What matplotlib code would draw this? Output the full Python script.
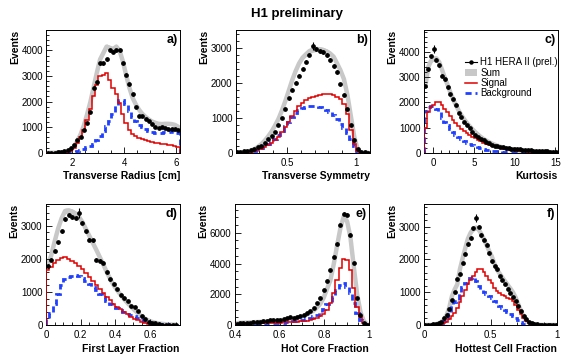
import numpy as np
import matplotlib
matplotlib.use("Agg")
import matplotlib.pyplot as plt
from matplotlib.lines import Line2D
from matplotlib.patches import Patch
from matplotlib.ticker import MultipleLocator, FuncFormatter

plt.rcParams['font.family'] = ['Liberation Sans', 'DejaVu Sans']

# ---- a) transverse radius: 41 bins of 0.125 from 1.0
a_data = [0, 0, 5, 10, 30, 60, 100, 180, 300, 480, 620, 880, 1180, 1600, 2550, 2750, 3500, 3500, 3650, 4000,
          3950, 4000, 4000, 3500, 3050, 2680, 2280, 1780, 1450, 1430, 1300, 1250, 1120, 1000, 980, 1000, 960,
          940, 910, 910, 890]
a_sig = [0, 0, 0, 5, 10, 20, 40, 80, 200, 380, 600, 900, 1280, 1700, 2200, 2650, 3000, 3050, 3100, 2850,
         2550, 2300, 1950, 1500, 1150, 900, 750, 640, 580, 520, 480, 440, 410, 390, 370, 350, 330, 310, 290,
         270, 240]
a_bkg = [0, 0, 0, 0, 0, 0, 10, 20, 40, 80, 120, 160, 220, 280, 350, 480, 650, 850, 1050, 1250, 1500, 1850,
         2050, 2080, 1900, 1650, 1400, 1250, 1100, 1000, 920, 860, 810, 780, 760, 770, 800, 820, 830, 820, 780]

# ---- b) transverse symmetry: 39 bins of 0.025 from 0.125
b_data = [20, 30, 40, 60, 80, 110, 150, 200, 280, 380, 480, 600, 800, 1000, 1250, 1550, 1800, 2000, 2200,
          2400, 2600, 2800, 3050, 2950, 2900, 2870, 2780, 2650, 2480, 2300, 1950, 1650, 1250, 800, 350, 100,
          30, 10, 0]
b_sig = [0, 0, 5, 10, 20, 40, 70, 110, 160, 220, 290, 370, 460, 580, 720, 880, 1050, 1200, 1330, 1430, 1500,
         1560, 1600, 1630, 1650, 1670, 1670, 1670, 1660, 1600, 1530, 1400, 1100, 650, 250, 40, 0, 0, 0]
b_bkg = [0, 5, 10, 20, 40, 60, 90, 130, 180, 240, 310, 400, 500, 620, 750, 890, 1020, 1130, 1220, 1280, 1310,
         1340, 1340, 1330, 1300, 1260, 1220, 1160, 1080, 950, 820, 700, 550, 400, 200, 50, 0, 0, 0]

# ---- c) kurtosis: 48 bins of 0.34 from -1.12
c_data = [2660, 3320, 3830, 4130, 3700, 3470, 3060, 2920, 2600, 2330, 2130, 1890, 1570, 1435, 1220, 1090,
          1000, 820, 700, 610, 530, 505, 440, 370, 305, 280, 265, 240, 210, 200, 186, 160, 150, 140, 130, 115,
          105, 95, 90, 80, 75, 65, 60, 55, 50, 45, 45, 40]
c_sig = [1000, 1600, 1800, 1900, 2000, 2000, 1900, 1750, 1600, 1450, 1300, 1180, 1060, 950, 860, 780, 700,
         630, 570, 510, 450, 400, 360, 320, 280, 250, 220, 190, 165, 145, 125, 105, 90, 78, 66, 56, 48, 40,
         35, 30, 25, 22, 18, 15, 12, 10, 8, 6]
c_bkg = [1650, 1800, 1850, 1850, 1750, 1600, 1400, 1230, 1100, 950, 830, 720, 620, 540, 470, 400, 350, 300,
         250, 210, 175, 145, 120, 100, 85, 70, 58, 48, 40, 33, 27, 22, 18, 15, 12, 10, 8, 6, 5, 4, 4, 3, 3,
         2, 2, 2, 1, 1]

# ---- d) first layer fraction: 38 bins of 0.02 from 0
d_data = [1800, 1980, 2250, 2500, 2830, 3200, 3330, 3260, 3230, 3380, 3100, 2830, 2580, 2560, 1970, 1940,
          1880, 1590, 1380, 1240, 1080, 910, 810, 740, 580, 550, 420, 260, 170, 100, 70, 50, 25, 15, 10, 5,
          5, 3]
d_sig = [1650, 1750, 1880, 1970, 2030, 2070, 2010, 1950, 1870, 1780, 1690, 1580, 1460, 1340, 1220, 1100,
         980, 860, 750, 640, 550, 470, 390, 320, 250, 190, 140, 100, 70, 45, 30, 18, 10, 6, 3, 2, 1, 0]
d_bkg = [200, 350, 650, 950, 1200, 1380, 1450, 1480, 1500, 1490, 1420, 1320, 1230, 1140, 1050, 950, 850,
         740, 640, 560, 500, 440, 390, 340, 300, 260, 210, 160, 120, 90, 65, 50, 38, 28, 20, 14, 10, 6]

# ---- e) hot core fraction: 40 bins of 0.015 from 0.4
e_data = [65, 100, 120, 140, 160, 170, 195, 215, 255, 275, 310, 325, 325, 330, 380, 440, 500, 475, 500, 560,
          620, 750, 900, 1100, 1400, 1750, 2250, 2850, 3600, 4400, 5300, 6500, 7250, 7170, 5880, 4060, 1730,
          650, 150, 30]
e_sig = [80, 90, 100, 100, 110, 110, 120, 120, 130, 130, 140, 150, 150, 160, 170, 180, 190, 200, 210, 230,
         250, 280, 320, 380, 460, 560, 720, 1000, 1400, 2100, 2900, 3700, 4300, 4250, 3600, 2400, 1200, 500,
         150, 40]
e_bkg = [40, 50, 50, 60, 60, 70, 70, 80, 90, 100, 110, 120, 130, 140, 160, 180, 200, 230, 260, 300, 340,
         400, 480, 560, 680, 820, 1050, 1350, 1500, 1850, 2250, 2600, 2750, 2500, 2100, 1400, 800, 350, 100, 20]

# ---- f) hottest cell fraction: 50 bins of 0.02 from 0
f_data = [0, 0, 5, 20, 30, 50, 100, 200, 320, 500, 750, 1000, 1400, 1550, 1890, 2170, 2470, 2650, 2950,
          3260, 3000, 2750, 2600, 2450, 2200, 1950, 1800, 1700, 1500, 1380, 1260, 1100, 970, 850, 730, 580,
          430, 280, 180, 100, 50, 30, 20, 10, 5, 3, 2, 0, 0, 0]
f_sig = [0, 0, 0, 5, 10, 20, 30, 60, 100, 180, 280, 380, 520, 700, 880, 1060, 1250, 1380, 1480, 1620, 1720,
         1700, 1620, 1500, 1380, 1270, 1140, 1040, 980, 930, 880, 830, 780, 720, 620, 470, 330, 200, 110, 60,
         30, 15, 8, 5, 3, 0, 0, 0, 0, 0]
f_bkg = [0, 0, 0, 5, 15, 30, 60, 110, 200, 350, 600, 700, 720, 1000, 1150, 1280, 1380, 1430, 1450, 1350,
         1200, 1080, 1000, 940, 880, 820, 720, 640, 580, 510, 450, 390, 330, 270, 210, 150, 90, 40, 20, 10,
         5, 0, 0, 0, 0, 0, 0, 0, 0, 0]

# the one point per plot that shows a visible error bar (bin index, error)
peak_err = {'a': None, 'b': (22, 120), 'c': (3, 170), 'd': (9, 150), 'e': None, 'f': (19, 130)}

RED = '#e00000'
BLUE = '#2040ff'
GREY = '#c8c8c8'

panels = [
    ('a', 'Transverse Radius [cm]', 1.0, 0.125, a_data, a_sig, a_bkg, (1.0, 6.15), (0, 4800), 2, 0.5, 1000, 200,
     [0.082, 0.5805, 0.236, 0.337]),
    ('b', 'Transverse Symmetry', 0.125, 0.025, b_data, b_sig, b_bkg, (0.13, 1.1), (0, 3500), 0.5, 0.1, 1000, 200,
     [0.4162, 0.5805, 0.236, 0.337]),
    ('c', 'Kurtosis', -1.12, 0.34, c_data, c_sig, c_bkg, (-1.12, 15.3), (0, 4880), 5, 1, 1000, 200,
     [0.7478, 0.5805, 0.236, 0.337]),
    ('d', 'First Layer Fraction', 0.0, 0.02, d_data, d_sig, d_bkg, (0, 0.77), (0, 3660), 0.2, 0.05, 1000, 200,
     [0.0811, 0.1071, 0.236, 0.3324]),
    ('e', 'Hot Core Fraction', 0.4, 0.015, e_data, e_sig, e_bkg, (0.4, 1.0), (0, 7870), 0.2, 0.05, 2000, 500,
     [0.4145, 0.1071, 0.236, 0.3324]),
    ('f', 'Hottest Cell Fraction', 0.0, 0.02, f_data, f_sig, f_bkg, (0, 1.0), (0, 3690), 0.5, 0.1, 1000, 200,
     [0.7478, 0.1071, 0.2346, 0.3324]),
]

fig = plt.figure(figsize=(5.67, 3.64), dpi=100)
fmt = FuncFormatter(lambda v, p: '%g' % v)

for tag, xlab, lo, w, data, sig, bkg, xlim, ylim, xmaj, xmin, ymaj, ymin, rect in panels:
    ax = fig.add_axes(rect)
    data = np.array(data, float)
    sig = np.array(sig, float)
    bkg = np.array(bkg, float)
    edges = lo + w * np.arange(len(data) + 1)
    centers = 0.5 * (edges[:-1] + edges[1:])
    tot = sig + bkg

    # sum band
    ax.fill_between(centers, tot * 0.975, tot * 1.025, color=GREY, lw=0, zorder=1)
    ax.plot(centers, tot, color=GREY, lw=3.2, solid_capstyle='round', zorder=1)
    ax.stairs(sig, edges, color=RED, lw=1.1, zorder=3)
    ax.stairs(bkg, edges, color=BLUE, lw=2.0, linestyle=(0, (2.2, 1.4)), zorder=2)

    err = np.sqrt(data)
    if peak_err[tag] is not None:
        err[peak_err[tag][0]] = peak_err[tag][1]
    ax.errorbar(centers, data, yerr=err, fmt='o', color='k', ms=2.4, elinewidth=0.8, capsize=0, zorder=5)

    ax.set_xlim(*xlim)
    ax.set_ylim(*ylim)
    ax.xaxis.set_major_locator(MultipleLocator(xmaj))
    ax.xaxis.set_minor_locator(MultipleLocator(xmin))
    ax.yaxis.set_major_locator(MultipleLocator(ymaj))
    ax.yaxis.set_minor_locator(MultipleLocator(ymin))
    ax.xaxis.set_major_formatter(fmt)
    ax.tick_params(which='both', direction='in', top=False, right=False, labelsize=7, width=0.6)
    ax.tick_params(axis='x', pad=3.8)
    ax.tick_params(axis='y', pad=2.5)
    ax.tick_params(which='major', length=4)
    ax.tick_params(which='minor', length=2)
    for s in ax.spines.values():
        s.set_linewidth(0.7)

    ax.set_xlabel(xlab, loc='right', fontsize=7.5, fontweight='bold', labelpad=2.5)
    ax.set_ylabel('Events', loc='top', fontsize=7.5, fontweight='bold', labelpad=1)
    ax.text(0.985, 0.965, tag + ')', transform=ax.transAxes, ha='right', va='top',
            fontsize=9, fontweight='bold')

    if tag == 'c':
        handles = [
            Line2D([], [], color='k', marker='o', ms=2.2, lw=0.8),
            Patch(facecolor=GREY, edgecolor='none'),
            Line2D([], [], color=RED, lw=1.1),
            Line2D([], [], color=BLUE, lw=2.0, linestyle=(0, (2.2, 1.4))),
        ]
        ax.legend(handles, ['H1 HERA II (prel.)', 'Sum', 'Signal', 'Background'],
                  loc='upper right', bbox_to_anchor=(1.0, 0.78), frameon=False, fontsize=7,
                  handlelength=1.3, handletextpad=0.3, labelspacing=0.05, borderpad=0,
                  borderaxespad=0)

fig.text(0.524, 0.9615, 'H1 preliminary', ha='center', va='center', fontsize=9.5, fontweight='bold')

fig.savefig('out.png', dpi=100)
